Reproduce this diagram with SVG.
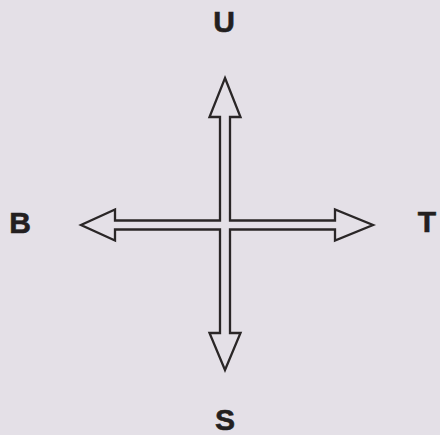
<svg xmlns="http://www.w3.org/2000/svg" width="440" height="435" viewBox="0 0 440 435">
<style>
.lbl{font-family:"Liberation Sans",Arial,sans-serif;font-weight:bold;font-size:30px;fill:#231f20;stroke:#231f20;stroke-width:0.6;text-anchor:middle}
.arr{fill:none;stroke:#2a2627;stroke-width:2.3;stroke-linejoin:miter}
</style>
<rect width="440" height="435" fill="#e4e0e7"/>
<g id="connectors">
<path class="arr" d="M225,78 L240.5,117 L230,117 L230,220.5 L335,220.5 L335,209.5 L373,225 L335,240.5 L335,229.5 L230,229.5 L230,333 L240.5,333 L225,370 L209.5,333 L220,333 L220,229.5 L115,229.5 L115,240.5 L81,225 L115,209.5 L115,220.5 L220,220.5 L220,117 L209.5,117 Z"/>
</g>
<g id="north"><text class="lbl" x="224" y="32">U</text></g>
<g id="south"><text class="lbl" x="225" y="430">S</text></g>
<g id="west"><text class="lbl" x="20" y="233">B</text></g>
<g id="east"><text class="lbl" x="427" y="232">T</text></g>
</svg>
